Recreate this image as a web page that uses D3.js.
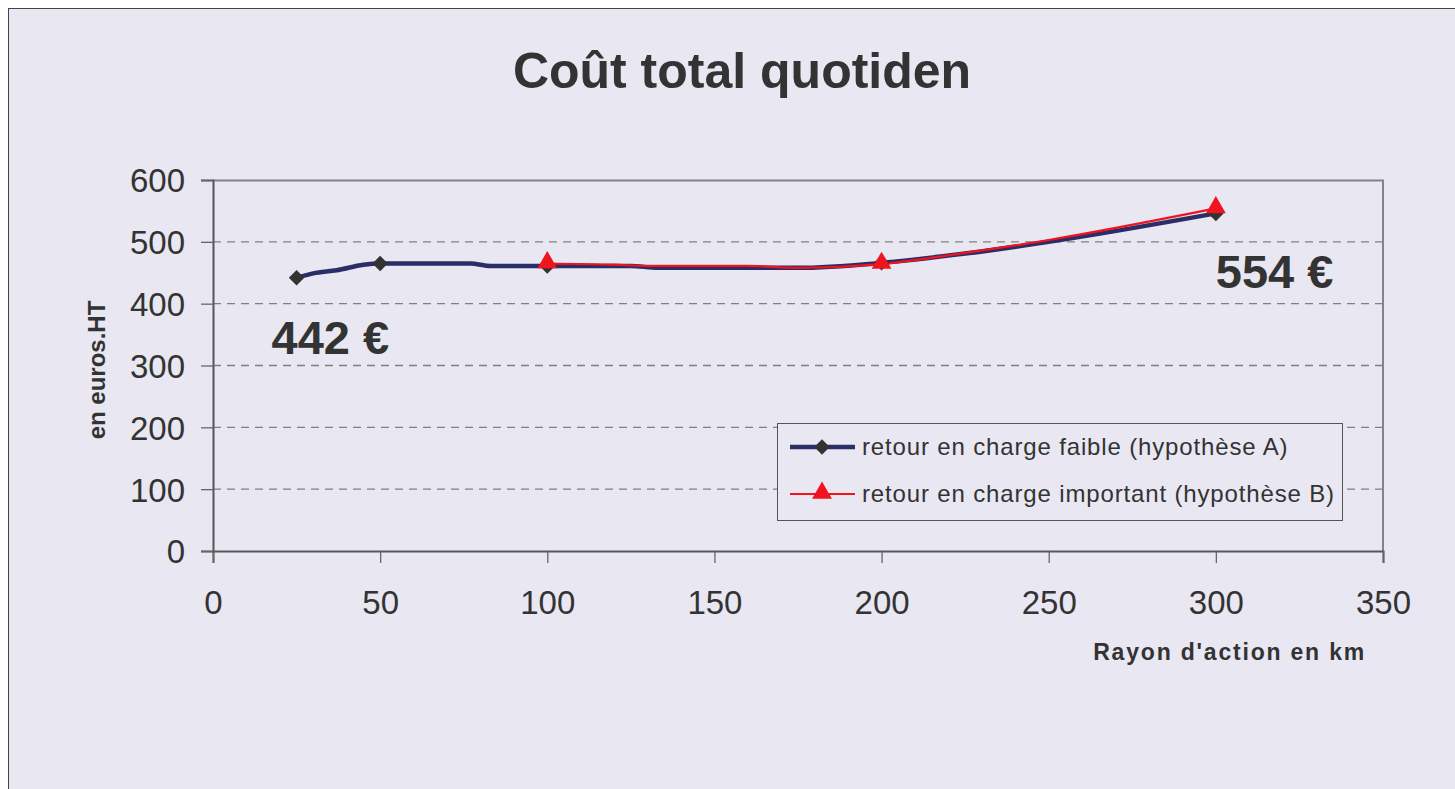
<!DOCTYPE html>
<html>
<head>
<meta charset="utf-8">
<script src="https://cdn.jsdelivr.net/npm/d3@7"></script>
<style>
  body { margin: 0; background: #ffffff; }
  svg text { font-family: "Liberation Sans", Arial, sans-serif; fill: #333333; }
</style>
</head>
<body>
<div id="vis"></div>
<script>
const FRAME_WIDTH = 1455;
const FRAME_HEIGHT = 789;
const MARGINS = {left: 213, right: 72, top: 180, bottom: 238};

const VIS_WIDTH = FRAME_WIDTH - MARGINS.left - MARGINS.right;
const VIS_HEIGHT = FRAME_HEIGHT - MARGINS.top - MARGINS.bottom;

// data
const X_TICKS = [0, 50, 100, 150, 200, 250, 300, 350];
const Y_TICKS = [0, 100, 200, 300, 400, 500, 600];

const DIST_A = [25, 30, 37, 45, 50, 77, 83, 100, 125, 133, 175, 200, 225, 250, 300];
const COST_A = [442, 449, 454, 463, 465, 465, 461, 461, 461, 458, 458, 466, 481, 500, 546];
const MARK_A = [25, 50, 100, 200, 300];

const DIST_B = [100, 120, 130, 160, 175, 200, 225, 250, 300];
const COST_B = [465, 463, 461, 461, 458, 464, 482, 503, 554];
const MARK_B = [100, 200, 300];

const SERIES_NAMES = ["retour en charge faible (hypothèse A)", "retour en charge important (hypothèse B)"];

const X_SCALE = d3.scaleLinear().domain([0, 350]).range([0, VIS_WIDTH]);
const Y_SCALE = d3.scaleLinear().domain([0, 600]).range([VIS_HEIGHT, 0]);

const svg = d3.select("#vis")
  .append("svg")
    .attr("width", FRAME_WIDTH)
    .attr("height", FRAME_HEIGHT);

// background + outer frame
svg.append("rect")
  .attr("x", 8.5).attr("y", 8.5)
  .attr("width", FRAME_WIDTH + 10).attr("height", FRAME_HEIGHT + 10)
  .attr("fill", "#e8e7f2")
  .attr("stroke", "#444").attr("stroke-width", 1);

const g = svg.append("g")
  .attr("transform", "translate(" + MARGINS.left + "," + MARGINS.top + ")");

// dashed grid
g.selectAll(".grid")
  .data(Y_TICKS.filter(d => d > 0 && d < 600))
  .enter()
  .append("line")
    .attr("x1", 0).attr("x2", VIS_WIDTH)
    .attr("y1", d => Y_SCALE(d)).attr("y2", d => Y_SCALE(d))
    .attr("stroke", "#808080")
    .attr("stroke-width", 1.3)
    .attr("stroke-dasharray", "8,6");

// plot frame top/right
g.append("path")
  .attr("d", "M0,0.5H" + VIS_WIDTH + "V" + VIS_HEIGHT)
  .attr("fill", "none").attr("stroke", "#8a8282").attr("stroke-width", 2);

// axes
const xAxis = g.append("g")
  .attr("transform", "translate(0," + VIS_HEIGHT + ")")
  .call(d3.axisBottom(X_SCALE).tickValues(X_TICKS).tickSize(12).tickPadding(28));
const yAxis = g.append("g")
  .call(d3.axisLeft(Y_SCALE).tickValues(Y_TICKS).tickSize(12).tickPadding(16));

[xAxis, yAxis].forEach(a => {
  a.select(".domain").attr("stroke", "#5a5555").attr("stroke-width", 2);
  a.selectAll(".tick line").attr("stroke", "#666").attr("stroke-width", 1.3);
  a.selectAll(".tick text")
    .attr("font-size", "33px")
    .attr("font-family", "Liberation Sans, Arial, sans-serif")
    .attr("fill", "#333");
});
yAxis.selectAll(".tick text").attr("dy", "0.36em");

const line = d3.line()
  .x(d => X_SCALE(d[0]))
  .y(d => Y_SCALE(d[1]))
  .curve(d3.curveMonotoneX);

const ptsA = DIST_A.map((d, i) => [d, COST_A[i]]);
const ptsB = DIST_B.map((d, i) => [d, COST_B[i]]);

g.append("path").datum(ptsA)
  .attr("d", line).attr("fill", "none")
  .attr("stroke", "#2b2e66").attr("stroke-width", 4.5);

g.append("path").datum(ptsB)
  .attr("d", line).attr("fill", "none")
  .attr("stroke", "#f0141e").attr("stroke-width", 2.2);

const diamond = d3.symbol().type(d3.symbolSquare).size(120);
const triangle = d3.symbol().type(d3.symbolTriangle).size(170);

g.selectAll(".markA")
  .data(ptsA.filter(d => MARK_A.includes(d[0])))
  .enter()
  .append("path")
    .attr("d", diamond)
    .attr("transform", d => "translate(" + X_SCALE(d[0]) + "," + Y_SCALE(d[1]) + ") rotate(45)")
    .attr("fill", "#333333");

g.selectAll(".markB")
  .data(ptsB.filter(d => MARK_B.includes(d[0])))
  .enter()
  .append("path")
    .attr("d", triangle)
    .attr("transform", d => "translate(" + X_SCALE(d[0]) + "," + (Y_SCALE(d[1]) - 1) + ")")
    .attr("fill", "#f0141e");

// value annotations
g.append("text")
  .attr("x", X_SCALE(17.5)).attr("y", Y_SCALE(442) + 76)
  .attr("font-size", "47px").attr("font-weight", "bold")
  .text(COST_A[0] + " €");
g.append("text")
  .attr("x", X_SCALE(300)).attr("y", Y_SCALE(554) + 80)
  .attr("font-size", "47px").attr("font-weight", "bold")
  .text(COST_B[COST_B.length - 1] + " €");

// legend
const LEG = g.append("g").attr("transform", "translate(" + (777 - MARGINS.left) + "," + (423 - MARGINS.top) + ")");
LEG.append("rect")
  .attr("x", 0.5).attr("y", 0.5).attr("width", 565).attr("height", 97)
  .attr("fill", "#e8e7f2").attr("stroke", "#555").attr("stroke-width", 1);

LEG.append("line").attr("x1", 13).attr("x2", 78).attr("y1", 24).attr("y2", 24)
  .attr("stroke", "#2b2e66").attr("stroke-width", 4.5);
LEG.append("path").attr("d", diamond)
  .attr("transform", "translate(45,24) rotate(45)").attr("fill", "#333333");
LEG.append("line").attr("x1", 13).attr("x2", 78).attr("y1", 71).attr("y2", 71)
  .attr("stroke", "#f0141e").attr("stroke-width", 2.2);
LEG.append("path").attr("d", triangle)
  .attr("transform", "translate(45,70)").attr("fill", "#f0141e");

LEG.selectAll(".legtext")
  .data(SERIES_NAMES)
  .enter()
  .append("text")
    .attr("x", 85)
    .attr("y", (d, i) => 24 + i * 47)
    .attr("dy", "0.35em")
    .attr("font-size", "24px")
    .attr("letter-spacing", "0.85px")
    .text(d => d);

// title and axis labels
svg.append("text")
  .attr("x", 742).attr("y", 88)
  .attr("text-anchor", "middle")
  .attr("font-size", "50px").attr("font-weight", "bold")
  .text("Coût total quotiden");

svg.append("text")
  .attr("x", 1366).attr("y", 660)
  .attr("text-anchor", "end")
  .attr("font-size", "23px").attr("font-weight", "bold")
  .attr("letter-spacing", "1.8px")
  .text("Rayon d'action en km");

svg.append("text")
  .attr("transform", "translate(105,370) rotate(-90)")
  .attr("text-anchor", "middle")
  .attr("font-size", "24px").attr("font-weight", "bold")
  .text("en euros.HT");
</script>
</body>
</html>
